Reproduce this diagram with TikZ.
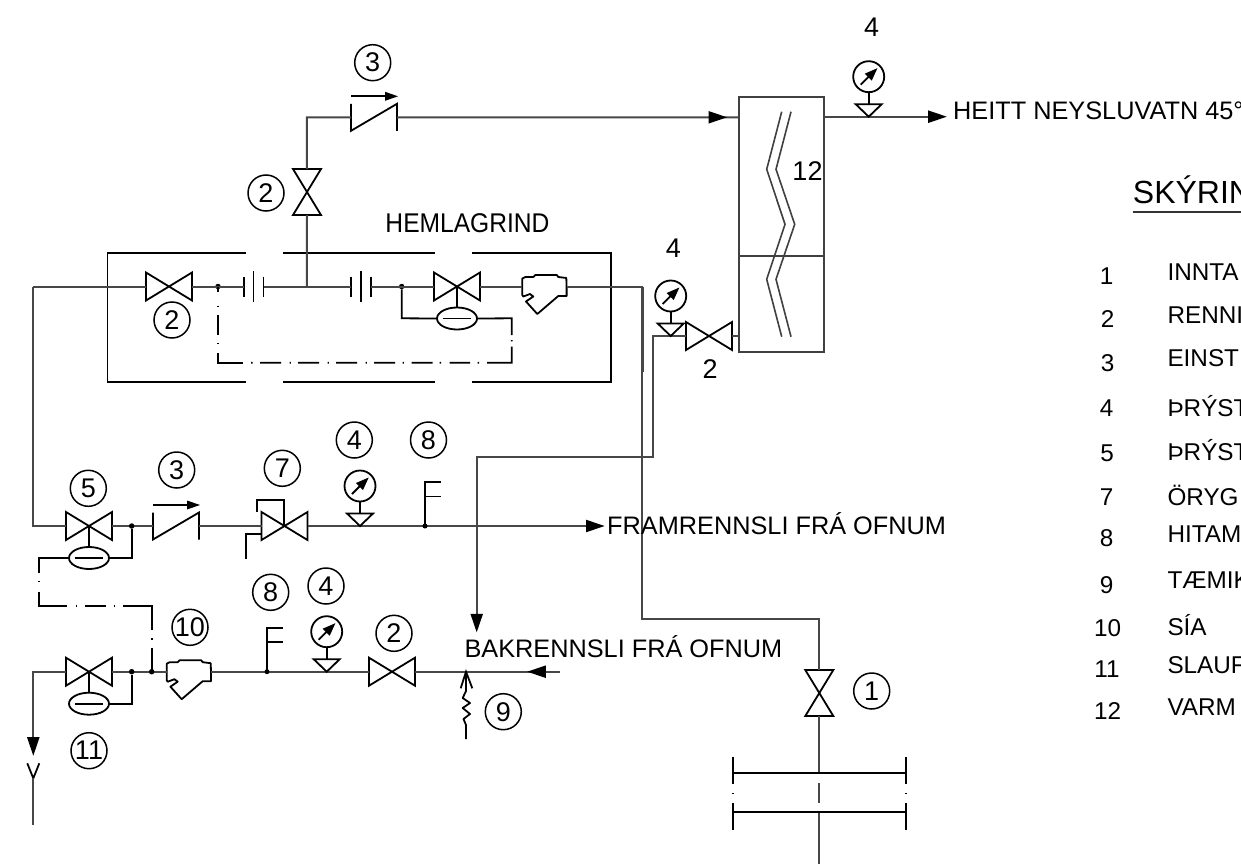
\documentclass[tikz,border=0pt]{standalone}
\usepackage{fontspec}
\usepackage{graphicx}
\setmainfont{Liberation Sans}
\newcommand{\fsz}[1]{\fontsize{#1}{#1}\selectfont}
\tikzset{
  sym/.style={draw=black,line width=1.8pt,line join=miter},
  pipe/.style={draw=black!72,line width=2pt},
  ctrl/.style={draw=black,line width=1.8pt},
  tag/.style={draw=black,line width=1.5pt,circle,minimum size=36pt,inner sep=0pt,font=\fsz{27}},
  lbl/.style={inner sep=0pt,anchor=base,font=\fsz{27}},
  txt/.style={inner sep=0pt,anchor=base west,font=\fsz{25.3}},
  leg/.style={inner sep=0pt,anchor=base west,font=\fsz{24.3}},
  num/.style={inner sep=0pt,anchor=base,font=\fsz{24.3}},
  dot/.style={circle,fill=black,inner sep=0pt,minimum size=5.5pt},
  valve/.pic={
    \draw[sym] (-23,-14)--(23,14)--(23,-14)--(-23,14)--cycle;
    \coordinate (-l) at (-23,0); \coordinate (-r) at (23,0); \coordinate (-c) at (0,0);
  },
  actuator/.pic={
    \draw[sym] (0,0)--(0,21);
    \draw[sym] (0,32) ellipse [x radius=20,y radius=11];
    \draw[sym] (-14,32)--(14,32);
    \coordinate (-l) at (-20,32); \coordinate (-r) at (20,32);
  },
  check/.pic={
    \draw[sym] (-23,-13.5)--(-23,13.5)--(23,-13.5)--(23,13.5);
    \draw[sym] (-23,-21)--(12,-21);
    \fill[black] (24,-21)--(11,-25.5)--(11,-16.5)--cycle;
    \coordinate (-l) at (-23,0); \coordinate (-r) at (23,0);
  },
  gauge/.pic={
    \draw[sym] (-13,-12.5)--(13,-12.5)--(0,0)--cycle;
    \draw[sym] (0,-12.5)--(0,-24.5);
    \draw[sym] (0,-40) circle [radius=15.5];
    \draw[sym] (-8,-32)--(0,-40);
    \fill[black] (8.7,-48.5)--(-4,-43)--(3,-36)--cycle;
  },
  strainer/.pic={
    \draw[sym,line join=round] (0,-8)--(3,-9.5)--(11,-9.5)--(13,-11.5)--(34.5,-11.5)--(36,-9.5)--(44,-8.5)--(44.3,0)--(44.3,9.5)--(36,9.5)--(15,27.5)--(3.7,15)--(11,10)--(7.7,7.5)--(1,10)--(0,8.5)--cycle;
    \coordinate (-l) at (0,0); \coordinate (-r) at (44.3,0);
  },
  flange/.pic={
    \draw[sym] (-9.5,-10)--(-9.5,10);
    \draw[sym] (0,-15.5)--(0,15.5);
    \draw[sym] (10,-10)--(10,10);
    \coordinate (-l) at (-9.5,0); \coordinate (-r) at (10,0);
  },
  sensor/.pic={
    \draw[sym] (0,0)--(0,-44)--(15.5,-44);
    \draw[sym] (0,-29.5)--(15.5,-29.5);
    \node[dot,minimum size=5pt] (-d) at (0,0) {};
  },
  head/.pic={
    \fill[black] (0,0)--(-18.5,-6.3)--(-18.5,6.3)--cycle;
  }
}
\begin{document}
\begin{tikzpicture}[x=1pt,y=-1pt]
\clip (0,0) rectangle (1241,864);
\fill[white] (0,0) rectangle (1241,864);

% ---- HEMLAGRIND frame
\draw[sym] (246,253)--(107.5,253)--(107.5,382)--(246,382);
\draw[sym] (283,253)--(435,253) (283,382)--(435,382);
\draw[sym] (472,253)--(610.7,253)--(610.7,382)--(472,382);
\node[inner sep=0pt,anchor=base,font=\fsz{24.6}] (hem) at (467.5,232) {\scalebox{1}[1.1]{HEMLAGRIND}};

% ---- heat exchanger
\node[draw=black!75,line width=2pt,minimum width=85.3pt,minimum height=254.4pt,inner sep=0pt] (hx) at (781.35,224.5) {};
\draw[draw=black!75,line width=2pt] (738.7,255.7)--(824,255.7);
\draw[draw=black!75,line width=1.6pt] (781.7,111.7)--(766.7,169.3)--(785,224.3)--(766.7,279.3)--(781.7,336.7);
\draw[draw=black!75,line width=1.6pt] (791,111.7)--(776,169.3)--(794.7,224.3)--(776,279.3)--(791,336.7);
\node[lbl] (t12) at (807.5,180) {12};

% ---- components, upper branch
\pic (va) at (169,286.5) {valve};
\pic (fa) at (253.5,286.5) {flange};
\pic (fb) at (360.7,286.5) {flange};
\pic (vb) at (457,286.5) {valve};
\pic (ab) at (457,286.5) {actuator};
\pic (sa) at (522.3,286.5) {strainer};
\pic[rotate=90] (vc) at (307,192) {valve};
\pic (ca) at (374,117.3) {check};
\coordinate (tee) at (306.8,286.5);
\coordinate (tl) at (33,286.5);
\coordinate (bl) at (33,526);
\coordinate (tk) at (306.8,117.3);
\coordinate (hxin) at (738.7,117.3);
\coordinate (hxout) at (824,116.7);
\coordinate (outend) at (935,116.7);
\node[dot] (da) at (218,286.5) {};
\node[dot] (db) at (401.7,286.5) {};

\draw[pipe] (tl)--(va-l) (va-r)--(fa-l) (fa-r)--(tee)--(fb-l) (fb-r)--(vb-l) (vb-r)--(sa-l);
\draw[pipe] (tee)--(vc-l) (vc-r)--(tk)--(ca-l) (ca-r)--(hxin);
\draw[pipe] (hxout)--(outend);
\pic at (727,117.3) {head};
\pic at (946.7,116.7) {head};
\pic at (868.7,116.7) {gauge};

% ---- supply to exchanger
\pic (vd) at (709,336) {valve};
\coordinate (e1) at (738.7,336);
\coordinate (e2) at (652.7,336);
\coordinate (e3) at (652.7,456.5);
\coordinate (e4) at (476.7,456.5);
\coordinate (e5) at (476.7,620);
\draw[pipe] (e1)--(vd-r) (vd-l)--(e2)--(e3)--(e4)--(e5);
\pic[rotate=-90] at (476.7,632.3) {head};
\pic at (670.7,336) {gauge};

% ---- main inlet
\coordinate (m1) at (642.3,286.5);
\coordinate (m2) at (642.3,618.7);
\coordinate (m3) at (819.3,618.7);
\coordinate (m4) at (819.3,773.3);
\coordinate (m5) at (819.3,812.3);
\coordinate (m6) at (819.3,864);
\pic[rotate=90] (ve) at (819.3,693) {valve};
\draw[pipe] (sa-r)--(m1)--(m2)--(m3)--(ve-r) (ve-l)--(m4) (m5)--(m6);
\draw[pipe] (642.8,286.5)--(642.8,372);
\draw[sym] (732.7,773.3)--(905.7,773.3) (732.7,812.3)--(905.7,812.3);
\draw[sym,line width=2.1pt] (732.7,756.7)--(732.7,784) (905.7,756.7)--(905.7,784);
\draw[sym,line width=2.1pt] (732.7,803)--(732.7,830) (905.7,803)--(905.7,830);
\draw[sym] (732.7,792.8)--(732.7,793.8) (905.7,792.8)--(905.7,793.8);
\draw[pipe] (819.3,783)--(819.3,802.7);

% ---- sensing line, upper
\draw[ctrl] (218,286.5)--(218,292) (218,305.5)--(218,306.8) (218,315)--(218,335) (218,343)--(218,344.3) (218,353)--(218,362.7)--(242.7,362.7);
\draw[ctrl] (251.2,362.7)--(252.5,362.7) (260,362.7)--(281,362.7) (289.5,362.7)--(290.8,362.7) (298,362.7)--(319,362.7) (327.5,362.7)--(328.8,362.7) (336,362.7)--(357,362.7) (365.5,362.7)--(366.8,362.7) (374,362.7)--(395,362.7) (402.5,362.7)--(403.8,362.7) (411.7,362.7)--(432.7,362.7) (439.7,362.7)--(441,362.7) (449.7,362.7)--(470,362.7) (477.7,362.7)--(479,362.7) (487,362.7)--(511.7,362.7)--(511.7,346.7) (511.7,340)--(511.7,341.3) (511.7,335)--(511.7,318.3)--(ab-r);
\draw[ctrl] (ab-l)--(401.7,318.3)--(db);

% ---- FRAMRENNSLI line
\pic (vf) at (89,526) {valve};
\pic (af) at (89,526) {actuator};
\pic (cb) at (176,526) {check};
\pic (vg) at (284.5,526) {valve};
\coordinate (fe) at (590,526);
\draw[pipe] (tl)--(bl)--(vf-l) (vf-r)--(cb-l) (cb-r)--(vg-l) (vg-r)--(fe);
\pic at (604.5,526) {head};
\pic at (360,526) {gauge};
\pic at (425,526) {sensor};
\node[dot] (dc) at (131.7,526) {};
\draw[ctrl] (af-r)--(131.7,558)--(dc);
\draw[sym] (257.3,511.7)--(257.3,500)--(284.3,500)--(284.3,526);
\draw[sym] (261.7,534)--(245.7,534)--(245.7,559);
\draw[ctrl] (af-l)--(39,558)--(39,572.7) (39,581)--(39,582.3) (39,591.7)--(39,606)--(66.7,606) (76,606)--(77.3,606) (85,606)--(105.7,606) (113.7,606)--(115,606) (123.3,606)--(151.7,606)--(151.7,630) (151.7,638.4)--(151.7,639.7) (151.7,647.7)--(151.7,671.7);

% ---- BAKRENNSLI line
\pic (vh) at (89,671.7) {valve};
\pic (ah) at (89,671.7) {actuator};
\pic (sb) at (166.7,671.7) {strainer};
\pic (vi) at (392,671.7) {valve};
\coordinate (re) at (560,671.7);
\coordinate (dl) at (33.3,671.7);
\coordinate (dm) at (33.3,740);
\coordinate (dy) at (33.3,778.3);
\coordinate (dz) at (33.3,825);
\draw[pipe] (re)--(vi-r) (vi-l)--(sb-r) (sb-l)--(vh-r) (vh-l)--(dl)--(dm);
\pic[rotate=180] at (527.3,671.7) {head};
\pic[rotate=-90] at (33.3,755.7) {head};
\draw[sym] (27.3,763.3)--(dy)--(39.3,763.3);
\draw[pipe] (dy)--(dz);
\pic at (267,671.7) {sensor};
\pic at (326.7,671.7) {gauge};
\node[dot] (dd) at (131.7,671.7) {};
\node[dot] (de) at (151.7,671.7) {};
\draw[ctrl] (ah-r)--(131.7,703.7)--(dd);

% ---- relief valve 9
\coordinate (ra) at (466,671.7);
\draw[sym,line join=round] (ra)--(466,691)--(462.7,698)--(470,703)--(462.7,708)--(470,714)--(463.5,719)--(466,725)--(466,739);
\draw[sym] (460.7,688.3)--(ra)--(472.3,688.3);

% ---- tags
\node[tag] (c2a) at (172,320) {2};
\node[tag] (c2b) at (266,193) {2};
\node[tag] (c3a) at (372.7,62.7) {3};
\node[tag] (c5) at (88.3,488.3) {5};
\node[tag] (c3b) at (176.7,470) {3};
\node[tag] (c7) at (282.3,468.3) {7};
\node[tag] (c4a) at (354.3,440) {4};
\node[tag] (c8a) at (428.5,440) {8};
\node[tag] (c8b) at (270.7,592.3) {8};
\node[tag] (c4b) at (326,586) {4};
\node[tag] (c10) at (190,627.3) {10};
\node[tag] (c2c) at (394,633.3) {2};
\node[tag] (c11) at (89,750.7) {11};
\node[tag] (c9) at (503.3,711.7) {9};
\node[tag] (c1) at (871.7,691) {1};

\node[lbl] (l4a) at (871.7,37) {4};
\node[lbl] (l4b) at (673.3,257) {4};
\node[lbl] (l2) at (710,378.5) {2};

% ---- flow labels
\node[txt] (heitt) at (953,120) {HEITT NEYSLUVATN 45°};
\node[txt] (fram) at (607,534) {FRAMRENNSLI FRÁ OFNUM};
\node[txt] (bak) at (464.3,657.3) {BAKRENNSLI FRÁ OFNUM};

% ---- legend
\node[inner sep=0pt,anchor=base west,font=\fsz{32}] (skyr) at (1132.7,203.3) {SKÝRIN};
\draw[line width=1.9pt,black!80] (1132.7,211.7)--(1241,211.7);
\node[num] (n1) at (1106.5,284) {1};
\node[num] (n2) at (1107.5,327.7) {2};
\node[num] (n3) at (1107.5,371.7) {3};
\node[num] (n4) at (1106.5,416) {4};
\node[num] (n5) at (1107,461.7) {5};
\node[num] (n7) at (1106.5,505) {7};
\node[num] (n8) at (1106.5,546.7) {8};
\node[num] (n9) at (1106.5,593) {9};
\node[num] (n10) at (1107.5,636) {10};
\node[num] (n11) at (1107,677) {11};
\node[num] (n12) at (1107.5,719) {12};
\node[leg] (i1) at (1167.3,280.7) {INNTA};
\node[leg] (i2) at (1167.3,323.3) {RENNI};
\node[leg] (i3) at (1167.3,366.7) {EINST};
\node[leg] (i4) at (1167.3,416) {ÞRÝST};
\node[leg] (i5) at (1167.3,460) {ÞRÝST};
\node[leg] (i7) at (1167.3,505) {ÖRYG};
\node[leg] (i8) at (1167.3,542.7) {HITAM};
\node[leg] (i9) at (1167.3,588.3) {TÆMIK};
\node[leg] (i10) at (1167.3,635.7) {SÍA};
\node[leg] (i11) at (1167.3,673.3) {SLAUF};
\node[leg] (i12) at (1167.3,715) {VARM};
\end{tikzpicture}
\end{document}
